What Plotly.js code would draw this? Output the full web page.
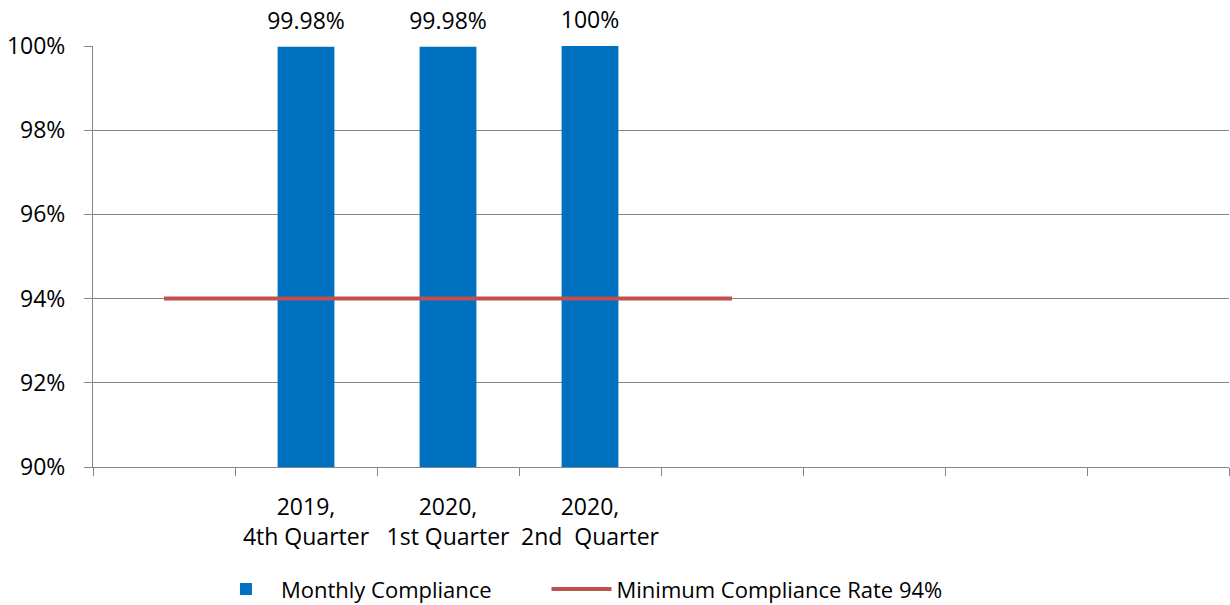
<!DOCTYPE html>
<html>
<head>
<meta charset="utf-8">
<script src="https://cdn.plot.ly/plotly-3.0.1.min.js"></script>
<style>html,body{margin:0;padding:0;background:#fff;}#chart{width:1230px;height:605px;}</style>
</head>
<body>
<div id="chart"></div>
<script>
var categories = ["c1", "c2", "c3", "c4", "c5", "c6", "c7", "c8"];
var tickLabels = ["", "2019,<br>4th Quarter", "2020,<br>1st Quarter", "2020,<br>2nd\u00a0 Quarter", "", "", "", ""];
var compliance = [0, 99.98, 99.98, 100, 0, null, null, 0];
var minimumRate = [94, 94, 94, 94, 94, null, null, null];

var barText = compliance.map(function (v) { return (v && v > 0) ? v + "%" : ""; });
var labelY = compliance.map(function (v) { return (v && v > 0) ? v : null; });

var FONT = "'Open Sans', sans-serif";
var FS = 23;
var LFS = 22;

var data = [
  {
    type: "bar",
    name: "Monthly Compliance",
    legend: "legend",
    x: categories,
    y: compliance,
    marker: {color: "#0070C0"},
    hoverinfo: "y"
  },
  {
    type: "scatter",
    mode: "lines",
    name: "Minimum Compliance Rate 94%",
    legend: "legend2",
    x: categories,
    y: minimumRate,
    line: {color: "#C0504D", width: 4},
    hoverinfo: "y"
  },
  {
    type: "scatter",
    mode: "markers+text",
    x: categories,
    y: labelY,
    text: barText,
    textposition: "top center",
    cliponaxis: false,
    marker: {size: 18, color: "rgba(0,0,0,0)"},
    textfont: {family: FONT, size: FS, color: "#000"},
    showlegend: false,
    hoverinfo: "skip"
  }
];

var legendBase = {
  orientation: "h",
  xref: "container",
  yref: "container",
  xanchor: "left",
  yanchor: "middle",
  y: 0.026,
  font: {family: FONT, size: LFS, color: "#000"},
  itemwidth: 60,
  bgcolor: "rgba(0,0,0,0)"
};

var layout = {
  width: 1230,
  height: 605,
  margin: {l: 93, r: 1, t: 46, b: 138},
  paper_bgcolor: "#fff",
  plot_bgcolor: "#fff",
  font: {family: FONT, size: FS, color: "#000"},
  bargap: 0.6,
  showlegend: true,
  legend: Object.assign({}, legendBase, {x: 0.1715}),
  legend2: Object.assign({}, legendBase, {x: 0.4443}),
  xaxis: {
    type: "category",
    automargin: false,
    tickmode: "array",
    tickvals: categories,
    ticktext: tickLabels,
    tickson: "boundaries",
    tickangle: 0,
    ticks: "outside",
    ticklen: 8,
    tickcolor: "#868686",
    showline: true,
    linecolor: "#868686",
    linewidth: 1,
    showgrid: false,
    tickfont: {family: FONT, size: FS, color: "#000"},
    ticklabelstandoff: 19,
    range: [-0.5, 7.5]
  },
  yaxis: {
    automargin: false,
    range: [90, 100],
    dtick: 2,
    tick0: 90,
    ticksuffix: "%",
    ticks: "outside",
    ticklen: 8,
    tickcolor: "#868686",
    showline: true,
    linecolor: "#868686",
    showgrid: true,
    gridcolor: "#868686",
    gridwidth: 1,
    zeroline: false,
    tickfont: {family: FONT, size: FS, color: "#000"},
    ticklabelstandoff: 14
  }
};

Plotly.newPlot("chart", data, layout, {displayModeBar: false, staticPlot: true});
</script>
</body>
</html>
